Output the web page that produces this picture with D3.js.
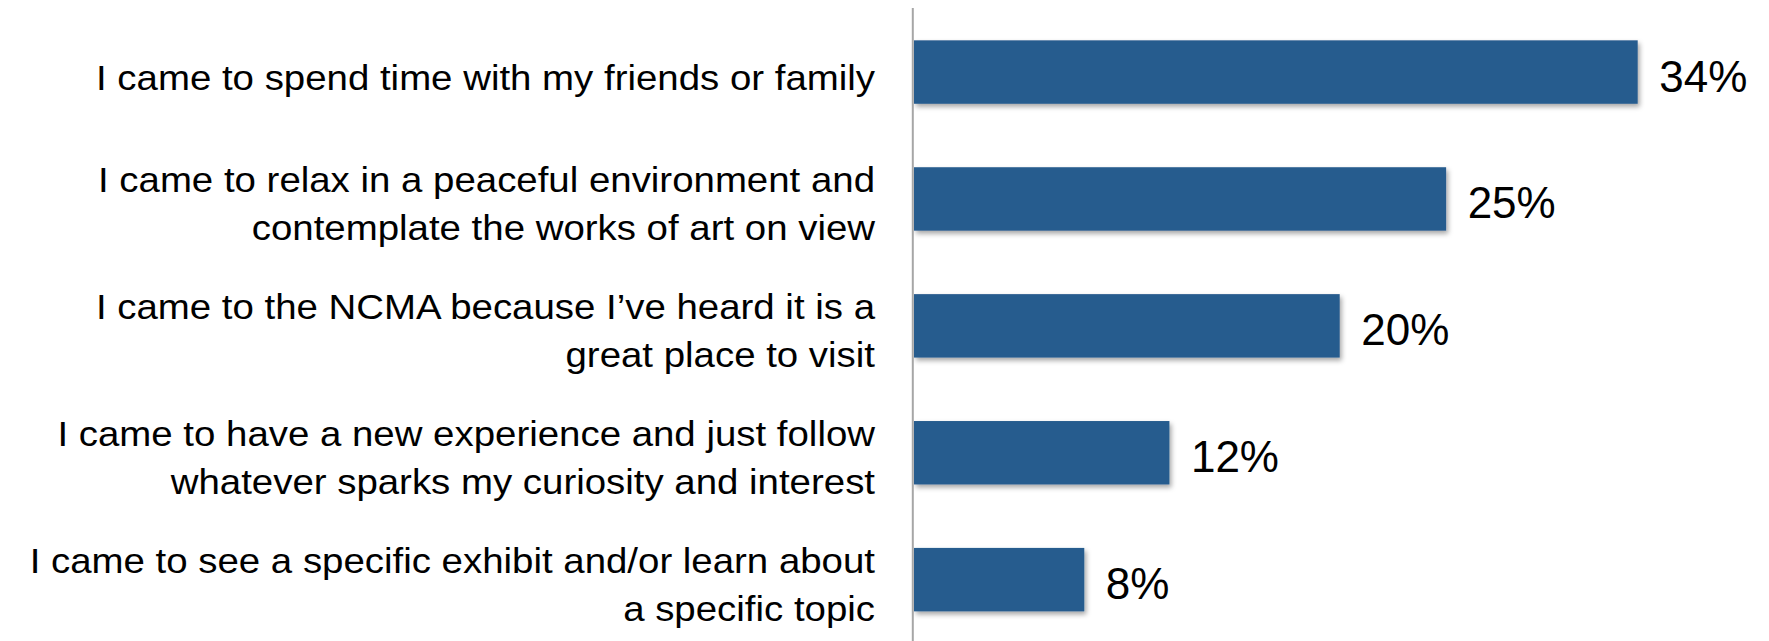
<!DOCTYPE html>
<html>
<head>
<meta charset="utf-8">
<script src="https://cdn.jsdelivr.net/npm/d3@7"></script>
<style>
  html, body { margin: 0; padding: 0; background: #ffffff; }
  svg { display: block; }
</style>
</head>
<body>
<svg id="chart" width="1769" height="641"></svg>
<script>
// Reasons for visiting, share of respondents (%)
const categories = [
  "I came to spend time with my friends or family",
  "I came to relax in a peaceful environment and\ncontemplate the works of art on view",
  "I came to the NCMA because I\u2019ve heard it is a\ngreat place to visit",
  "I came to have a new experience and just follow\nwhatever sparks my curiosity and interest",
  "I came to see a specific exhibit and/or learn about\na specific topic"
];
const values = [34, 25, 20, 12, 8];
const valueLabels = ["34%", "25%", "20%", "12%", "8%"];

const svg = d3.select("#chart");
const W = 1769, H = 641;

const x = d3.scaleLinear().domain([0, 34]).range([914, 1637.7]);
const y = d3.scaleBand().domain(categories).range([8.6, 643.1])
  .paddingInner(0.5).paddingOuter(0.25);

// soft drop shadow under the bars
const defs = svg.append("defs");
const f = defs.append("filter").attr("id", "shadow")
  .attr("x", "-5%").attr("y", "-20%").attr("width", "115%").attr("height", "160%");
f.append("feDropShadow").attr("dx", 2).attr("dy", 3).attr("stdDeviation", 2.5)
  .attr("flood-color", "#000").attr("flood-opacity", 0.35);

// bars
svg.append("g").selectAll("rect")
  .data(values)
  .join("rect")
  .attr("x", x(0))
  .attr("y", (d, i) => y(categories[i]))
  .attr("width", d => x(d) - x(0))
  .attr("height", y.bandwidth())
  .attr("fill", "#285c8e")
  .attr("filter", "url(#shadow)");

// category axis line
svg.append("line")
  .attr("x1", 912.8).attr("x2", 912.8)
  .attr("y1", 8).attr("y2", H)
  .attr("stroke", "#a6a6a6").attr("stroke-width", 2);

// value labels
svg.append("g").selectAll("text")
  .data(values)
  .join("text")
  .attr("x", d => x(d) + 21.5)
  .attr("y", (d, i) => y(categories[i]) + y.bandwidth() / 2 + 19.5)
  .attr("font-family", "'Liberation Sans', Arial, sans-serif")
  .attr("font-size", 44)
  .attr("fill", "#000")
  .text((d, i) => valueLabels[i]);

// category labels, right-aligned against the axis
const labelRight = 875;
const lg = svg.append("g").attr("class", "cat-labels");
const labelGroups = lg.selectAll("g")
  .data(categories)
  .join("g");

labelGroups.each(function (c) {
  const g = d3.select(this);
  const lines = c.split("\n");
  const cy = y(c) + y.bandwidth() / 2;
  const offsets = lines.length === 1 ? [17.5] : [-7, 41];
  lines.forEach((line, j) => {
    g.append("text")
      .attr("x", 0)
      .attr("y", cy + offsets[j])
      .attr("text-anchor", "end")
      .attr("font-family", "'Liberation Sans', Arial, sans-serif")
      .attr("font-size", 36)
      .attr("fill", "#000")
      .text(line);
  });
});

// condense the label face horizontally so the first line spans 96..875
const firstLine = lg.select("text").node();
const natural = firstLine.getComputedTextLength();
const sx = (labelRight - 96) / natural;
labelGroups.attr("transform", `translate(${labelRight},0) scale(${sx},1)`);
</script>
</body>
</html>
